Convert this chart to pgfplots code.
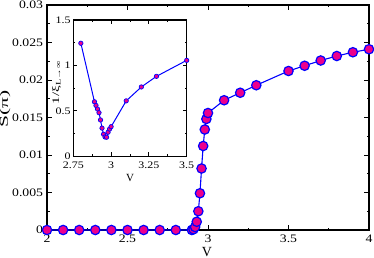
\documentclass[border=0pt]{standalone}
\usepackage{fontspec}
\setmainfont{Liberation Serif}
\newfontfamily\stretchA[FakeStretch=1.2]{Liberation Serif}
\newfontfamily\stretchB[FakeStretch=1.8]{Liberation Serif}
\newfontfamily\stretchC[FakeStretch=1.5]{Liberation Serif}
\usepackage{pgfplots}
\pgfplotsset{compat=1.18}
\newcommand\lbl[1]{{\stretchA #1}}
\begin{document}
\begin{tikzpicture}
\pgfplotsset{
  every axis/.append style={
    /pgf/number format/assume math mode=true,
    scale only axis,
    axis line style={line width=1.1bp},
    every tick/.style={black, line width=0.8bp},
    tick align=inside,
  },
}
\begin{axis}[
  name=main,
  at={(0,0)}, anchor=south west,
  width=322bp, height=225bp,
  xmin=2, xmax=4, ymin=0, ymax=0.03,
  xtick={2,2.5,3,3.5,4},
  xticklabels={\lbl{2},\lbl{2.5},\lbl{3},\lbl{3.5},\lbl{4}},
  minor x tick num=1,
  ytick={0,0.005,0.01,0.015,0.02,0.025,0.03},
  yticklabels={\lbl{0},\lbl{0.005},\lbl{0.01},\lbl{0.015},\lbl{0.02},\lbl{0.025},\raisebox{-2.5bp}{\lbl{0.03}}},
  minor y tick num=1,
  major tick length=5bp, minor tick length=2.5bp,
  xlabel={V}, ylabel={\stretchB S(π)},
  xlabel style={font=\fontsize{14}{16}\selectfont, anchor=center, at={(axis description cs:0.497,-0.0964)}},
  ylabel style={font=\fontsize{12}{14}\selectfont, anchor=center, at={(axis description cs:-0.1304,0.538)}},
  xticklabel style={font=\fontsize{11.5}{13}\selectfont, anchor=center, inner sep=0pt, yshift=-9bp},
  yticklabel style={font=\fontsize{11.5}{13}\selectfont, anchor=east, inner sep=0pt, xshift=-3.7bp},
  clip=false,
]
\addplot[color=blue, line width=1.1bp, mark=*, mark size=4.7bp,
  mark options={fill=magenta, draw=blue, line width=1.2bp}]
coordinates {
(2.0,0)(2.1,0)(2.2,0)(2.3,0)(2.4,0)(2.5,0)(2.6,0)(2.7,0)(2.8,0)
(2.9,0)(2.91,0.0001)(2.92,0.0004)(2.93,0.0011)(2.94,0.0025)(2.95,0.0049)
(2.96,0.0082)(2.97,0.0112)(2.98,0.0134)(2.99,0.0148)(3.0,0.0156)
(3.1,0.0173)(3.2,0.0183)(3.3,0.0193)(3.5,0.0212)(3.6,0.0219)
(3.7,0.0226)(3.8,0.0232)(3.9,0.0237)(4.0,0.0241)
};
\end{axis}
\begin{axis}[
  at={(26.3bp,73.7bp)}, anchor=south west,
  width=113.4bp, height=136.3bp,
  xmin=2.75, xmax=3.5, ymin=0, ymax=1.5,
  xtick={2.75,3,3.25,3.5},
  xticklabels={\lbl{2.75},\lbl{3},\lbl{3.25},\lbl{3.5}},
  minor x tick num=1,
  ytick={0,0.5,1,1.5},
  yticklabels={\lbl{0},\lbl{0.5},\lbl{1},\lbl{1.5}},
  minor y tick num=1,
  major tick length=4bp, minor tick length=2bp,
  xlabel={V}, ylabel={\stretchC 1/ξ\textsubscript{L→∞}},
  xlabel style={font=\fontsize{11}{13}\selectfont, anchor=center, at={(axis description cs:0.5,-0.159)}},
  ylabel style={font=\fontsize{10}{12}\selectfont, anchor=center, at={(axis description cs:-0.148,0.541)}},
  xticklabel style={font=\fontsize{10}{12}\selectfont, anchor=center, inner sep=0pt, yshift=-8.7bp},
  yticklabel style={font=\fontsize{10}{12}\selectfont, anchor=east, inner sep=0pt, xshift=-2.5bp},
  axis background/.style={fill=white},
  clip=false,
]
\addplot[color=blue, line width=1bp, mark=*, mark size=2.2bp,
  mark options={fill=magenta, draw=blue, line width=0.7bp}]
coordinates {
(2.8,1.244)(2.89,0.60)(2.90,0.56)(2.91,0.52)(2.92,0.48)(2.93,0.40)
(2.94,0.31)(2.95,0.243)(2.96,0.213)(2.97,0.21)(2.98,0.265)(2.99,0.30)
(3.0,0.326)(3.1,0.61)(3.2,0.763)(3.3,0.88)(3.5,1.056)
};
\end{axis}
\pgfresetboundingbox
\path (-47bp,-28bp) rectangle (327bp,230bp);
\end{tikzpicture}
\end{document}
